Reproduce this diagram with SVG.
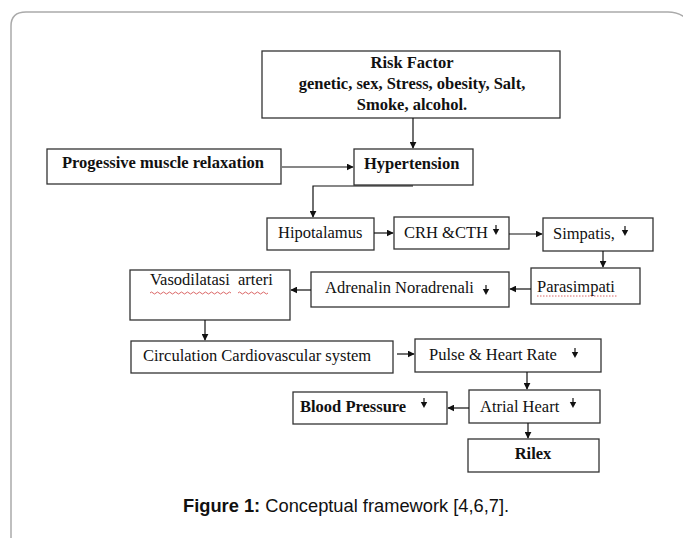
<svg xmlns="http://www.w3.org/2000/svg" width="683" height="538" viewBox="0 0 683 538">
<style>
.box{fill:#fff;stroke:#333;stroke-width:1.3}
.t{font-family:"Liberation Serif","Times New Roman",serif;font-size:16.5px;fill:#111}
.b{font-weight:bold}
.c{fill:none;stroke:#111;stroke-width:1.2}
.sq{fill:none;stroke:#d04040;stroke-width:0.8}
.cap{font-family:"Liberation Sans",Arial,sans-serif;font-size:18.3px;fill:#111}
</style>
<defs>
<marker id="ah" viewBox="0 0 10 10" refX="9" refY="5" markerWidth="7" markerHeight="7" markerUnits="userSpaceOnUse" orient="auto"><path d="M0,0 L10,5 L0,10 z" fill="#111"/></marker>
<g id="dn"><line x1="0" y1="0" x2="0" y2="6" stroke="#111" stroke-width="1.2"/><path d="M-3.2,4 L3.2,4 L0,10 z" fill="#111"/></g>
</defs>
<rect width="683" height="538" fill="#fff"/>
<path d="M11,545 V26 Q11,12 26,12 H668 Q678,12 686,18" fill="none" stroke="#aaa" stroke-width="1.5"/>

<g id="risk"><rect class="box" x="262" y="51" width="298" height="67"/>
<text class="t b" x="412" y="68" text-anchor="middle">Risk Factor</text>
<text class="t b" x="412" y="89" text-anchor="middle">genetic, sex, Stress, obesity, Salt,</text>
<text class="t b" x="412" y="110" text-anchor="middle">Smoke, alcohol.</text></g>

<g id="pmr"><rect class="box" x="47" y="149" width="234" height="35"/>
<text class="t b" x="163" y="168" text-anchor="middle">Progessive muscle relaxation</text></g>

<g id="hyp"><rect class="box" x="354" y="149" width="119" height="36"/>
<text class="t b" x="364" y="169">Hypertension</text></g>

<g id="hipo"><rect class="box" x="267" y="218" width="107" height="32"/>
<text class="t" x="278" y="238">Hipotalamus</text></g>

<g id="crh"><rect class="box" x="394" y="217" width="115" height="32"/>
<text class="t" x="404" y="238">CRH &amp;CTH</text><use href="#dn" x="496" y="225"/></g>

<g id="simp"><rect class="box" x="543" y="218" width="110" height="33"/>
<text class="t" x="553" y="239">Simpatis,</text><use href="#dn" x="625" y="226"/></g>

<g id="para"><rect class="box" x="531" y="268" width="109" height="36"/>
<text class="t" x="537" y="292">Parasimpati</text>
<path class="sq" d="M537,296 H617" stroke-dasharray="1.5,1.5"/></g>

<g id="adre"><rect class="box" x="311" y="272" width="198" height="35"/>
<text class="t" x="325" y="293">Adrenalin Noradrenali</text><use href="#dn" x="486" y="285"/></g>

<g id="vaso"><rect class="box" x="130" y="270" width="160" height="50"/>
<text class="t" x="150" y="285" xml:space="preserve">Vasodilatasi  arteri</text>
<path class="sq" d="M150,293 q1.5,-2 3,0 t3,0 t3,0 t3,0 t3,0 t3,0 t3,0 t3,0 t3,0 t3,0 t3,0 t3,0 t3,0 t3,0 t3,0 t3,0 t3,0 t3,0 t3,0 t3,0 t3,0 t3,0 t3,0 t3,0 t3,0 t3,0 t3,0"/>
<path class="sq" d="M238,293 q1.5,-2 3,0 t3,0 t3,0 t3,0 t3,0 t3,0 t3,0 t3,0 t3,0 t3,0"/></g>

<g id="circ"><rect class="box" x="131" y="341" width="262" height="32"/>
<text class="t" x="143" y="361">Circulation Cardiovascular system</text></g>

<g id="pulse"><rect class="box" x="415" y="339" width="186" height="33"/>
<text class="t" x="429" y="360">Pulse &amp; Heart Rate</text><use href="#dn" x="575" y="348"/></g>

<g id="bp"><rect class="box" x="293" y="392" width="154" height="32"/>
<text class="t b" x="300" y="412">Blood Pressure</text><use href="#dn" x="424" y="398"/></g>

<g id="atrial"><rect class="box" x="469" y="390" width="131" height="33"/>
<text class="t" x="480" y="412">Atrial Heart</text><use href="#dn" x="573" y="398"/></g>

<g id="rilex"><rect class="box" x="468" y="439" width="131" height="33"/>
<text class="t b" x="533" y="459" text-anchor="middle">Rilex</text></g>

<g id="connectors">
<line class="c" x1="413" y1="118" x2="413" y2="148" marker-end="url(#ah)"/>
<line class="c" x1="282" y1="167" x2="353" y2="167" marker-end="url(#ah)"/>
<polyline class="c" points="413,186 313,186 313,217" marker-end="url(#ah)"/>
<line class="c" x1="374" y1="233" x2="393" y2="233" marker-end="url(#ah)"/>
<line class="c" x1="509" y1="234" x2="542" y2="234" marker-end="url(#ah)"/>
<line class="c" x1="603" y1="251" x2="603" y2="267" marker-end="url(#ah)"/>
<line class="c" x1="531" y1="289" x2="510" y2="289" marker-end="url(#ah)"/>
<line class="c" x1="311" y1="290" x2="291" y2="290" marker-end="url(#ah)"/>
<line class="c" x1="205" y1="320" x2="205" y2="340" marker-end="url(#ah)"/>
<line class="c" x1="397" y1="354" x2="414" y2="354" marker-end="url(#ah)"/>
<line class="c" x1="527" y1="372" x2="527" y2="389" marker-end="url(#ah)"/>
<line class="c" x1="469" y1="408" x2="448" y2="408" marker-end="url(#ah)"/>
<line class="c" x1="528" y1="423" x2="528" y2="438" marker-end="url(#ah)"/>
</g>

<text class="cap" x="183" y="512"><tspan font-weight="bold">Figure 1:</tspan> Conceptual framework [4,6,7].</text>
</svg>
